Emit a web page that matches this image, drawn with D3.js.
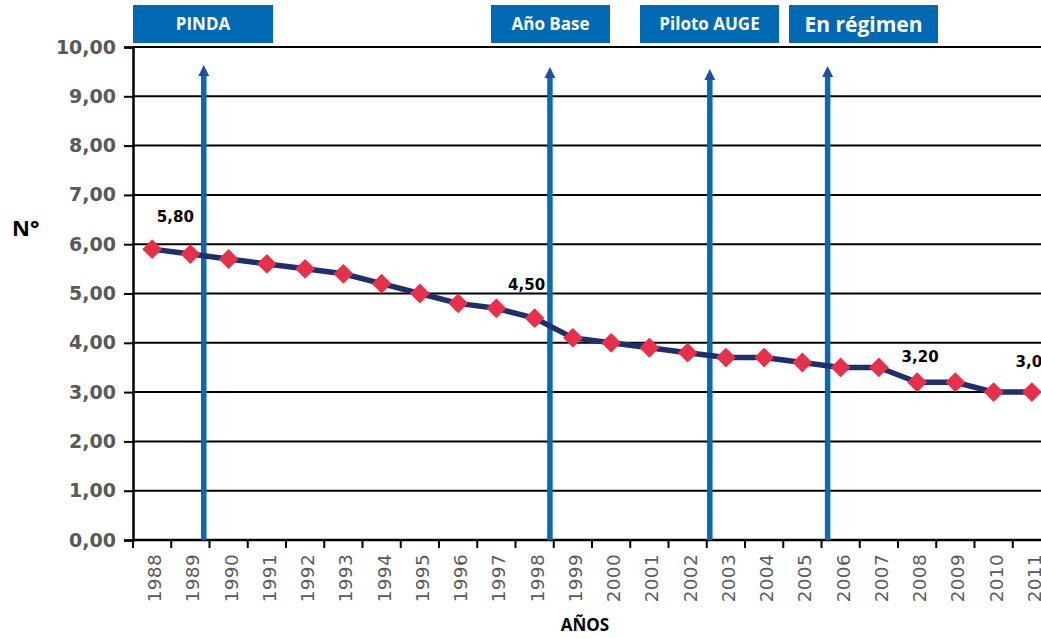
<!DOCTYPE html>
<html>
<head>
<meta charset="utf-8">
<script src="https://cdn.jsdelivr.net/npm/d3@7"></script>
<style>
  html, body { margin: 0; padding: 0; background: #fff; overflow: hidden; }
  svg { display: block; }
</style>
</head>
<body>
<svg id="chart" width="1041" height="638"></svg>
<script>
// Years on the category axis
const years = ["1988","1989","1990","1991","1992","1993","1994","1995","1996","1997","1998","1999",
               "2000","2001","2002","2003","2004","2005","2006","2007","2008","2009","2010","2011"];
// Series values (N° per year)
const values = [5.9, 5.8, 5.7, 5.6, 5.5, 5.4, 5.2, 5.0, 4.8, 4.7, 4.5, 4.1,
                4.0, 3.9, 3.8, 3.7, 3.7, 3.6, 3.5, 3.5, 3.2, 3.2, 3.0, 3.0];
// Y tick values
const yTicks = [0, 1, 2, 3, 4, 5, 6, 7, 8, 9, 10];
// Value labels shown above selected points
const labelYears = ["1989", "1998", "2008", "2011"];
const labelTexts = ["5,80", "4,50", "3,20", "3,0"];
// Milestones: label and position along the year axis (in years)
const milestoneNames = ["PINDA", "Año Base", "Piloto AUGE", "En régimen"];
const milestonePos = [1989.35, 1998.4, 2002.58, 2005.66];

const svg = d3.select("#chart");
const margin = { left: 133, top: 47, bottom: 540 };
const plotRight = 1051;

const x = d3.scaleBand().domain(years).range([margin.left, plotRight]).padding(0);
const y = d3.scaleLinear().domain([0, 10]).range([margin.bottom, margin.top]);
// continuous year position for milestone arrows
const xYear = d3.scaleLinear()
  .domain([+years[0], +years[years.length - 1]])
  .range([x(years[0]) + x.bandwidth() / 2, x(years[years.length - 1]) + x.bandwidth() / 2]);

const fmt = v => d3.format(".2f")(v).replace(".", ",");

// Horizontal gridlines
svg.append("g")
  .selectAll("line")
  .data(yTicks)
  .join("line")
  .attr("x1", margin.left).attr("x2", plotRight)
  .attr("y1", d => y(d)).attr("y2", d => y(d))
  .attr("stroke", "#000").attr("stroke-width", 2);

// Y axis
const yAxis = svg.append("g")
  .attr("transform", `translate(${margin.left},0)`)
  .call(d3.axisLeft(y).tickValues(yTicks).tickFormat(fmt).tickSize(9).tickPadding(8));
yAxis.select(".domain").attr("stroke", "#000").attr("stroke-width", 2.5);
yAxis.selectAll(".tick line").attr("stroke", "#000").attr("stroke-width", 2);
yAxis.selectAll(".tick text")
  .attr("fill", "#595959")
  .style("font-family", "'DejaVu Sans', sans-serif")
  .style("font-weight", "bold")
  .style("font-size", "19px");

// X axis: ticks at band boundaries, labels rotated
const xg = svg.append("g");
xg.append("line")
  .attr("x1", margin.left).attr("x2", plotRight)
  .attr("y1", y(0)).attr("y2", y(0))
  .attr("stroke", "#000").attr("stroke-width", 2.5);
xg.selectAll("line.tk")
  .data(years)
  .join("line")
  .attr("class", "tk")
  .attr("x1", d => x(d)).attr("x2", d => x(d))
  .attr("y1", y(0)).attr("y2", y(0) + 8)
  .attr("stroke", "#000").attr("stroke-width", 2);
xg.selectAll("text")
  .data(years)
  .join("text")
  .attr("transform", d => `translate(${x(d) + x.bandwidth() / 2 + 9},${y(0) + 14}) rotate(-90)`)
  .attr("text-anchor", "end")
  .attr("fill", "#5a5a5a")
  .style("font-family", "'DejaVu Sans', sans-serif")
  .style("font-size", "18.5px")
  .style("letter-spacing", "0.3px")
  .text(d => d);

// Milestone arrows
const defs = svg.append("defs");
defs.append("marker")
  .attr("id", "arrowhead")
  .attr("viewBox", "0 0 10 10")
  .attr("refX", 1).attr("refY", 5)
  .attr("markerWidth", 2.0).attr("markerHeight", 2.0)
  .attr("markerUnits", "strokeWidth")
  .attr("orient", "auto")
  .append("path")
  .attr("d", "M0,0 L10,5 L0,10 Z")
  .attr("fill", "#1f4f9e");

const arrowTop = [65, 67, 69, 66];
svg.append("g")
  .selectAll("line")
  .data(milestonePos)
  .join("line")
  .attr("x1", d => xYear(d)).attr("x2", d => xYear(d))
  .attr("y1", y(0)).attr("y2", (d, i) => arrowTop[i] + 10)
  .attr("stroke", "#0a69b4").attr("stroke-width", 5.5)
  .attr("marker-end", "url(#arrowhead)");

// Milestone boxes
const boxes = [
  { x0: 133, x1: 273, size: 17 },
  { x0: 491, x1: 610, size: 17 },
  { x0: 640, x1: 779, size: 17 },
  { x0: 789, x1: 938, size: 21 }
];
const bg = svg.append("g");
bg.selectAll("rect")
  .data(boxes)
  .join("rect")
  .attr("x", d => d.x0).attr("y", 5)
  .attr("width", d => d.x1 - d.x0).attr("height", 38)
  .attr("fill", "#0069b4");
bg.selectAll("text")
  .data(boxes)
  .join("text")
  .attr("x", d => (d.x0 + d.x1) / 2)
  .attr("y", 24)
  .attr("dy", "0.36em")
  .attr("text-anchor", "middle")
  .attr("fill", "#fff")
  .style("font-family", "'Open Sans', sans-serif")
  .style("font-weight", "bold")
  .style("font-size", d => d.size + "px")
  .text((d, i) => milestoneNames[i]);

// Value labels (drawn beneath the series)
const labelDx = [-15, -8, 3, -3];
const labelDy = [-32, -28, -20, -25];
svg.append("g")
  .selectAll("text")
  .data(labelYears)
  .join("text")
  .attr("x", (d, i) => x(d) + x.bandwidth() / 2 + labelDx[i])
  .attr("y", (d, i) => y(values[years.indexOf(d)]) + labelDy[i])
  .attr("text-anchor", "middle")
  .attr("fill", "#000")
  .style("font-family", "'DejaVu Sans', sans-serif")
  .style("font-weight", "bold")
  .style("font-size", "15px")
  .text((d, i) => labelTexts[i]);

// Series line
const line = d3.line()
  .x((d, i) => x(years[i]) + x.bandwidth() / 2)
  .y(d => y(d));
svg.append("path")
  .datum(values)
  .attr("d", line)
  .attr("fill", "none")
  .attr("stroke", "#1f2f6b")
  .attr("stroke-width", 5.5)
  .attr("stroke-linejoin", "round");

// Diamond markers
svg.append("g")
  .selectAll("rect")
  .data(values)
  .join("rect")
  .attr("x", -7).attr("y", -7)
  .attr("width", 14).attr("height", 14)
  .attr("transform", (d, i) => `translate(${x(years[i]) + x.bandwidth() / 2},${y(d)}) rotate(45)`)
  .attr("fill", "#e8304a");

// Axis titles
svg.append("text")
  .attr("x", 12).attr("y", 236)
  .attr("fill", "#000")
  .style("font-family", "'Open Sans', sans-serif")
  .style("font-weight", "bold")
  .style("font-size", "22px")
  .text("N°");

svg.append("text")
  .attr("x", 585).attr("y", 631)
  .attr("text-anchor", "middle")
  .attr("fill", "#000")
  .style("font-family", "'Open Sans', sans-serif")
  .style("font-weight", "bold")
  .style("font-size", "17px")
  .text("AÑOS");
</script>
</body>
</html>
